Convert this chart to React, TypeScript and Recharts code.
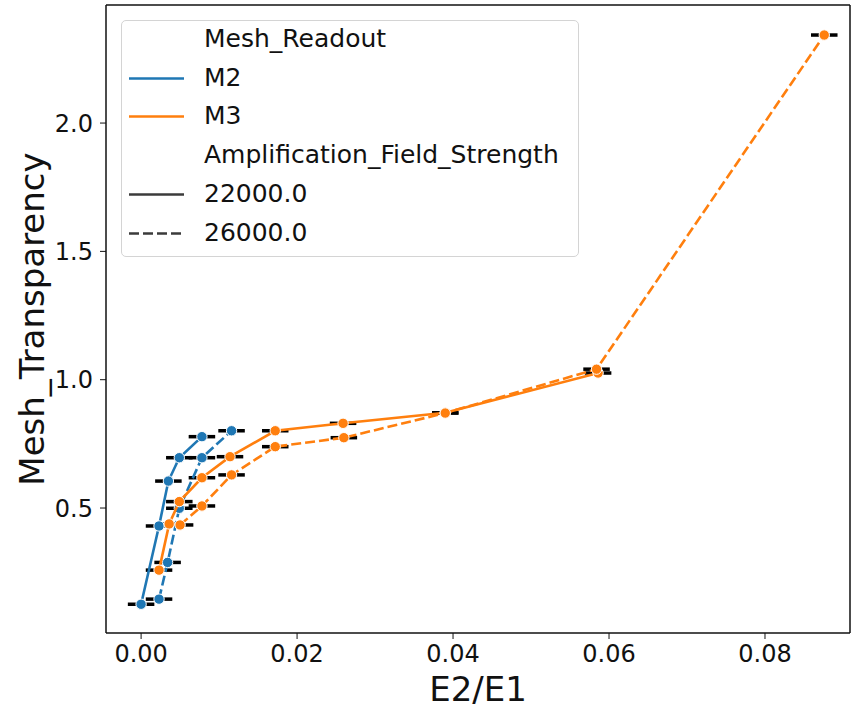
import { ScatterChart, Scatter, XAxis, YAxis, ErrorBar, Label, ReferenceLine } from 'recharts';

const FONT = '"DejaVu Sans", sans-serif';
const BLUE = '#1f77b4';
const ORANGE = '#ff7f0e';
const DASH = '10 4';

// Mesh_Readout M2
const M2_22000_X = [0, 0.0023, 0.0035, 0.0049, 0.0078];
const M2_22000_Y = [0.125, 0.43, 0.605, 0.696, 0.778];
const M2_22000_XERR = [0.0017, 0.0017, 0.0017, 0.0017, 0.0017];

const M2_26000_X = [0.0023, 0.0034, 0.0049, 0.0078, 0.0116];
const M2_26000_Y = [0.145, 0.288, 0.499, 0.696, 0.801];
const M2_26000_XERR = [0.0017, 0.0017, 0.0017, 0.0017, 0.0017];

// Mesh_Readout M3
const M3_22000_X = [0.0023, 0.0036, 0.0049, 0.0078, 0.0114, 0.0172, 0.0259, 0.039, 0.0586];
const M3_22000_Y = [0.258, 0.438, 0.525, 0.618, 0.7, 0.801, 0.83, 0.871, 1.026];
const M3_22000_XERR = [0.0017, 0.0017, 0.0017, 0.0017, 0.0017, 0.0017, 0.0017, 0.0017, 0.0017];

const M3_26000_X = [0.005, 0.0078, 0.0116, 0.0172, 0.026, 0.039, 0.0584, 0.0876];
const M3_26000_Y = [0.434, 0.508, 0.629, 0.739, 0.774, 0.87, 1.041, 2.343];
const M3_26000_XERR = [0.0017, 0.0017, 0.0017, 0.0017, 0.0017, 0.0017, 0.0017, 0.0017];

const X_DOMAIN = [-0.0045, 0.0909];
const Y_DOMAIN = [0.013, 2.46];
const X_TICKS = [0, 0.02, 0.04, 0.06, 0.08];
const Y_TICKS = [0.5, 1.0, 1.5, 2.0];

const toPoints = (xs: number[], ys: number[], errs: number[]) =>
  xs.map((x, i) => ({ x, y: ys[i], xerr: errs[i] }));

const SERIES = [
  { name: 'M2-22000', color: BLUE, dash: undefined, data: toPoints(M2_22000_X, M2_22000_Y, M2_22000_XERR) },
  { name: 'M2-26000', color: BLUE, dash: DASH, data: toPoints(M2_26000_X, M2_26000_Y, M2_26000_XERR) },
  { name: 'M3-22000', color: ORANGE, dash: undefined, data: toPoints(M3_22000_X, M3_22000_Y, M3_22000_XERR) },
  { name: 'M3-26000', color: ORANGE, dash: DASH, data: toPoints(M3_26000_X, M3_26000_Y, M3_26000_XERR) },
];

const LEGEND_ROWS = [
  { label: 'Mesh_Readout', color: null, dash: undefined },
  { label: 'M2', color: BLUE, dash: undefined },
  { label: 'M3', color: ORANGE, dash: undefined },
  { label: 'Amplification_Field_Strength', color: null, dash: undefined },
  { label: '22000.0', color: '#3b3b3b', dash: undefined },
  { label: '26000.0', color: '#3b3b3b', dash: '10 4' },
];

function LegendBox() {
  return (
    <div
      style={{
        position: 'absolute',
        left: 121,
        top: 20,
        width: 458,
        height: 237,
        border: '1px solid #d4d4d4',
        borderRadius: 5,
        background: 'rgba(255,255,255,0.85)',
        boxSizing: 'border-box',
        fontFamily: FONT,
        fontSize: 25,
        color: '#111',
      }}
    >
      {LEGEND_ROWS.map((row, i) => (
        <div
          key={row.label}
          style={{ position: 'absolute', left: 0, top: i * 38.7, height: 38, width: '100%' }}
        >
          {row.color && (
            <svg width={60} height={38} style={{ position: 'absolute', left: 6, top: 0 }}>
              <line
                x1={1}
                x2={56}
                y1={18.5}
                y2={18.5}
                stroke={row.color}
                strokeWidth={2.6}
                strokeDasharray={row.dash}
              />
            </svg>
          )}
          <span style={{ position: 'absolute', left: 82, top: 3, lineHeight: '30px', whiteSpace: 'nowrap' }}>
            {row.label}
          </span>
        </div>
      ))}
    </div>
  );
}

const marker = (color: string) => (props: any) => (
  <circle cx={props.cx} cy={props.cy} r={5.2} fill={color} stroke="#fff" strokeWidth={1} />
);

export default function App() {
  return (
    <div style={{ position: 'absolute', left: 0, top: 0, width: 852, height: 710, background: '#fff' }}>
      <ScatterChart width={852} height={710} margin={{ top: 5, right: 2, bottom: 0, left: 10 }}>
        <XAxis
          type="number"
          dataKey="x"
          domain={X_DOMAIN}
          allowDataOverflow
          ticks={X_TICKS}
          tickFormatter={(v: number) => v.toFixed(2)}
          height={77}
          tickSize={6}
          tickMargin={6}
          stroke="#111"
          tick={{ fill: '#111', fontSize: 24, fontFamily: FONT }}
          axisLine={{ stroke: '#111', strokeWidth: 1.5 }}
        >
          <Label
            value="E2/E1"
            position="insideBottom"
            offset={9}
            style={{ fill: '#111', fontSize: 34, fontFamily: FONT }}
          />
        </XAxis>
        <YAxis
          type="number"
          dataKey="y"
          domain={Y_DOMAIN}
          allowDataOverflow
          ticks={Y_TICKS}
          tickFormatter={(v: number) => v.toFixed(1)}
          width={96}
          tickSize={6}
          tickMargin={7}
          stroke="#111"
          tick={{ fill: '#111', fontSize: 24, fontFamily: FONT }}
          axisLine={{ stroke: '#111', strokeWidth: 1.5 }}
        >
          <Label
            value="Mesh_Transparency"
            angle={-90}
            position="insideLeft"
            offset={22}
            style={{ fill: '#111', fontSize: 34, fontFamily: FONT, textAnchor: 'middle' }}
          />
        </YAxis>
        {/* top and right spines */}
        <ReferenceLine y={Y_DOMAIN[1]} stroke="#111" strokeWidth={1.5} />
        <ReferenceLine x={X_DOMAIN[1]} stroke="#111" strokeWidth={1.5} />
        {SERIES.map((s) => (
          <Scatter
            key={s.name}
            name={s.name}
            data={s.data}
            fill={s.color}
            line={{ stroke: s.color, strokeWidth: 2.6, strokeDasharray: s.dash }}
            lineType="joint"
            shape={marker(s.color)}
            isAnimationActive={false}
          >
            <ErrorBar dataKey="xerr" direction="x" width={0} stroke="#000" strokeWidth={3.5} />
          </Scatter>
        ))}
      </ScatterChart>
      <LegendBox />
    </div>
  );
}
